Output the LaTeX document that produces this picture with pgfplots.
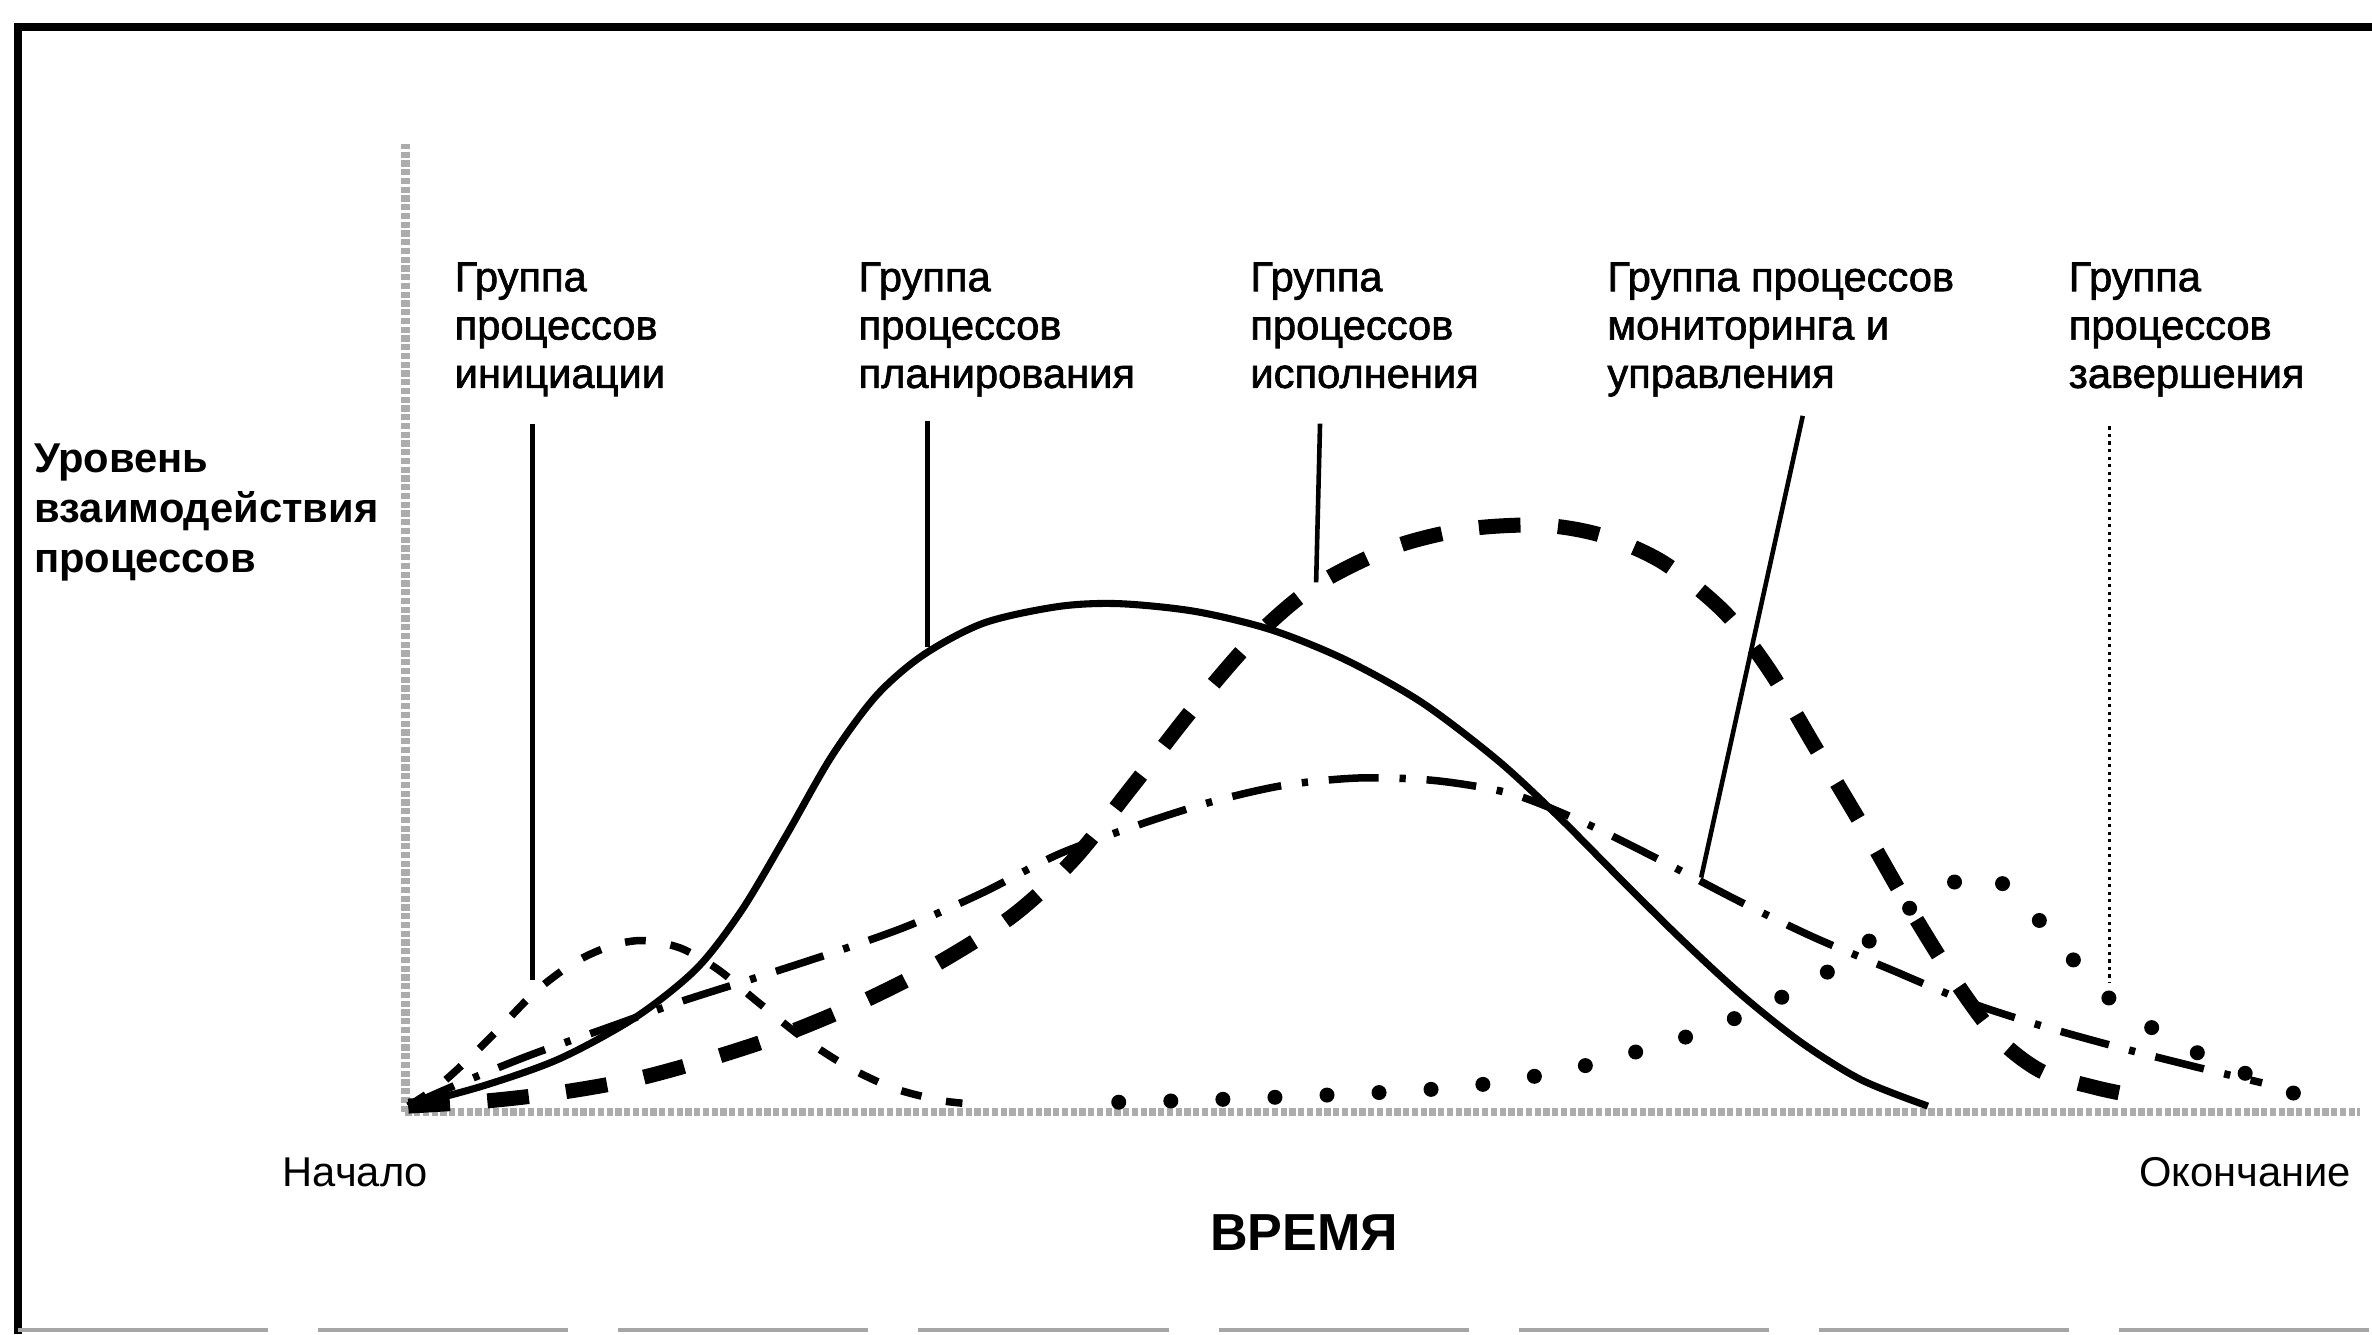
\documentclass[border=0pt]{standalone}
\usepackage{pgfplots}
\pgfplotsset{compat=1.18}
\usepackage{fontspec}
\setmainfont{Liberation Sans}
\newfontfamily\labfont[FakeBold=1.5]{Liberation Sans}
\begin{document}
\begin{tikzpicture}
\begin{scope}[x=0.012755cm, y=0.012755cm]
\useasboundingbox (0,0) rectangle (1568,882);
% frame
\draw[line width=2pt] (12,0) -- (12,864) -- (1568,864);
\draw[gray!70, line width=1pt, dash pattern=on 60pt off 12pt] (12,3) -- (1568,3);
\end{scope}
\begin{axis}[at={(3.4183cm,1.875cm)}, anchor=south west, scale only axis,
  width=16.48cm, height=8.163cm, xmin=0, xmax=100, ymin=0, ymax=100,
  axis lines=left, axis line style={-, draw=gray!65, line width=2pt, dash pattern=on 1.5pt off 0.6pt},
  xtick=\empty, ytick=\empty, clip=false]
% initiation
\addplot[black, line width=1.8pt, dash pattern=on 5pt off 6pt, smooth] coordinates {
(0.15,0.6) (1.7,2.7) (3.25,5.5) (4.8,8.6) (6.7,12.5) (8.7,15.5) (10.6,17.2) (12.2,17.7)
(14.1,16.9) (16.0,14.7) (18.0,11.4) (20.3,7.7) (22.6,4.7) (24.9,2.5) (27.2,1.25) (28.5,0.9)};
% planning
\addplot[black, line width=1.7pt, smooth] coordinates {
(0.15,0.6) (4.0,2.7) (7.9,5.5) (11.8,9.8) (14.9,14.8) (17.2,20.8) (19.5,28.6) (21.8,36.7)
(24.1,43.0) (26.5,47.2) (29.6,50.5) (33.4,52.2) (36.5,52.5) (40.4,51.7) (44.3,49.8) (48.1,46.7)
(52.0,42.3) (55.9,36.3) (59.0,30.5) (62.1,24.2) (65.2,18.0) (68.3,12.2) (71.4,7.2) (74.5,3.3) (77.9,0.6)};
% execution
\addplot[black, line width=3.6pt, dash pattern=on 10pt off 9pt, smooth] coordinates {
(0.15,0.6) (4.0,1.1) (7.9,2.0) (11.8,3.4) (15.6,5.5) (19.5,8.1) (23.4,11.4) (27.2,15.3)
(31.1,20.3) (34.2,26.1) (37.3,33.9) (40.4,41.9) (43.5,49.1) (46.6,54.4) (50.5,58.3) (54.3,60.2)
(58.2,60.6) (61.3,59.5) (64.4,56.7) (67.5,51.6) (69.8,45.6) (72.1,37.8) (74.5,29.7) (76.8,21.6)
(79.1,14.1) (81.4,7.8) (83.7,4.2) (86.5,2.5) (88.4,1.7)};
% monitoring and control
\addplot[black, line width=1.8pt, dash pattern=on 12pt off 5pt on 1.5pt off 5pt, smooth] coordinates {
(0.15,0.6) (2.5,2.7) (6.3,5.8) (10.2,8.6) (14.1,11.4) (18.0,13.9) (21.8,16.4) (25.7,19.2)
(29.6,22.7) (33.4,26.6) (37.3,29.5) (41.2,32.0) (45.0,33.75) (48.9,34.5) (52.8,34.2) (56.7,32.8)
(60.5,29.7) (64.4,25.8) (68.3,21.7) (72.1,18.0) (76.0,14.7) (79.9,11.4) (83.7,8.9) (87.6,6.7)
(91.5,4.7) (95.0,3.0)};
% closing
\addplot[black, line width=3.6pt, line cap=round, dash pattern=on 0pt off 12.5pt, smooth] coordinates {
(36.5,1.0) (41.2,1.25) (48.9,1.9) (53.6,2.5) (56.7,3.3)
(59.8,4.5) (62.8,6.1) (65.9,8.0) (69.0,10.5) (72.1,13.6) (74.5,17.0) (76.8,20.8) (79.1,23.6)
(81.0,24.5) (83.0,21.1) (85.3,15.8) (87.2,11.7) (89.6,8.4) (91.9,5.9) (94.6,3.6) (96.9,1.7)};
% pointer lines
\draw[black, line width=1.1pt] (axis cs:6.5,71.1) -- (axis cs:6.5,13.6);
\draw[black, line width=1.1pt] (axis cs:26.7,71.4) -- (axis cs:26.7,48.0);
\draw[black, line width=1.1pt] (axis cs:46.8,71.1) -- (axis cs:46.6,54.7);
\draw[black, line width=1.1pt] (axis cs:71.5,71.9) -- (axis cs:66.3,24.2);
\draw[black, line width=0.8pt, densely dotted] (axis cs:87.2,70.8) -- (axis cs:87.2,13.3);
\end{axis}
\begin{scope}[x=0.012755cm, y=0.012755cm]
% labels
\begin{scope}[every node/.style={anchor=north west, inner sep=0pt, align=left, font=\labfont\fontsize{10}{11.6}\selectfont}]
\node at (300,709) {Группа\\процессов\\инициации};
\node at (567,709) {Группа\\процессов\\планирования};
\node at (826,709) {Группа\\процессов\\исполнения};
\node at (1062,709) {Группа процессов\\мониторинга и\\управления};
\node at (1367,709) {Группа\\процессов\\завершения};
\end{scope}
\node[anchor=north west, inner sep=0pt, align=left, font=\bfseries\fontsize{10}{12}\selectfont] at (22,589) {Уровень\\взаимодействия\\процессов};
\node[font=\fontsize{10}{12}\selectfont, inner sep=0pt] at (235,107) {Начало};
\node[font=\fontsize{10}{12}\selectfont, inner sep=0pt] at (1484,107) {Окончание};
\node[font=\bfseries\fontsize{12.5}{14}\selectfont, inner sep=0pt] at (862,67) {ВРЕМЯ};
\end{scope}
\end{tikzpicture}
\end{document}
